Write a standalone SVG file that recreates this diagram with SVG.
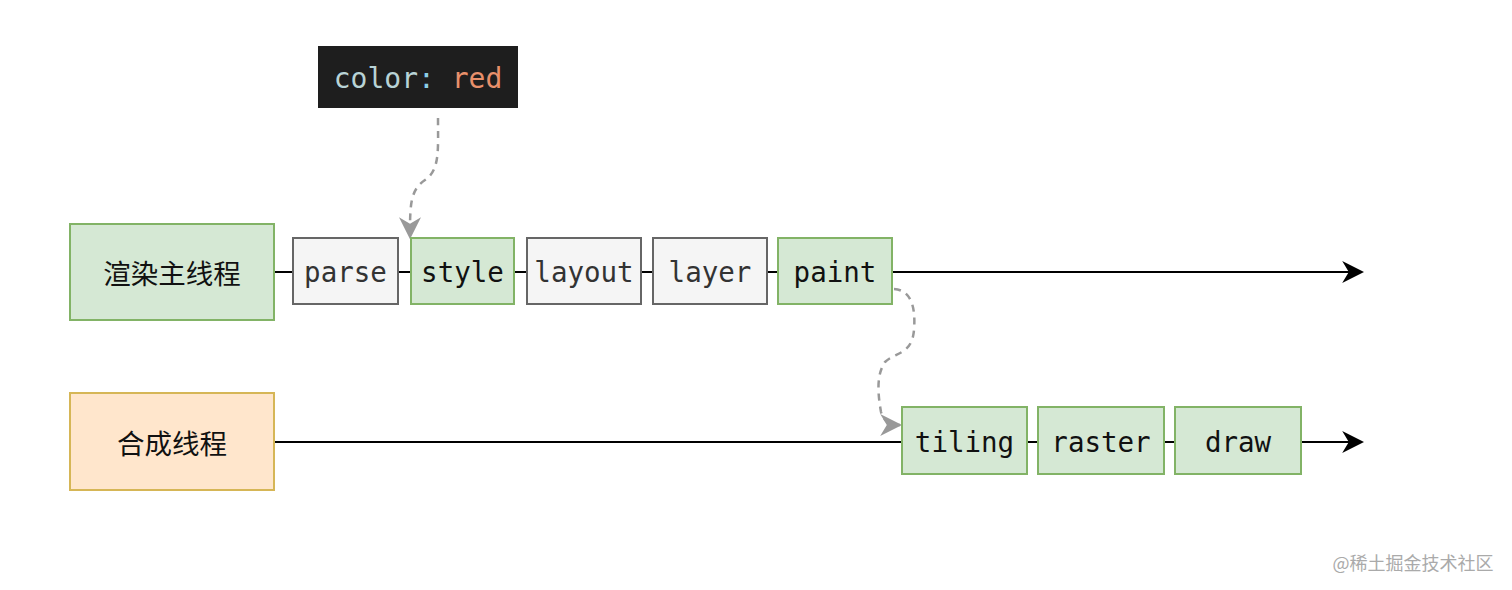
<svg xmlns="http://www.w3.org/2000/svg" width="1512" height="590" viewBox="0 0 1512 590">
<defs>
<style>
.g{fill:#d5e8d4;stroke:#82b366;stroke-width:2}
.w{fill:#f5f5f5;stroke:#666666;stroke-width:2}
.o{fill:#ffe6cc;stroke:#d6b656;stroke-width:2}
.m{font-family:"DejaVu Sans Mono","Liberation Mono",monospace;font-size:27.5px;fill:#111;text-anchor:middle;dominant-baseline:central}
.w .m{fill:#333}
.c{font-family:"Noto Sans CJK SC","Noto Sans",sans-serif;font-size:27.5px;fill:#111;text-anchor:middle;dominant-baseline:central}
.ln{stroke:#000;stroke-width:2;fill:none}
.d{stroke:#999;stroke-width:2.5;fill:none;stroke-dasharray:7 6}
</style>
<marker id="ah" viewBox="0 0 20 20" refX="18" refY="10" markerWidth="22" markerHeight="22" markerUnits="userSpaceOnUse" orient="auto"><path d="M0,0 L20,10 L0,20 L6,10 Z" fill="#000"/></marker>
<marker id="gh" viewBox="0 0 20 20" refX="18" refY="10" markerWidth="22" markerHeight="22" markerUnits="userSpaceOnUse" orient="auto"><path d="M0,0 L20,10 L0,20 L6,10 Z" fill="#999"/></marker>
</defs>
<rect width="1512" height="590" fill="#fff"/>
<g id="connectors">
<path class="ln" d="M274,272 H1362" marker-end="url(#ah)"/>
<path class="ln" d="M274,442 H1362" marker-end="url(#ah)"/>
<path class="d" d="M438,118 C438,150 440,170 425,180 C410,190 410,205 410,237" marker-end="url(#gh)"/>
<path class="d" d="M894,289 C910,290 916,305 914,330 C912,355 895,352 885,362 C876,375 878,395 881,412 C884,422 890,425 900,425" marker-end="url(#gh)"/>
</g>
<g id="code">
<rect x="318" y="46" width="200" height="62" fill="#1e1e1e"/>
<text x="418" y="78" font-family="DejaVu Sans Mono,Liberation Mono,monospace" font-size="28" text-anchor="middle" dominant-baseline="central"><tspan fill="#b8d3d6">color</tspan><tspan fill="#8ccfe8">:</tspan><tspan fill="#b8d3d6"> </tspan><tspan fill="#e8906b">red</tspan></text>
</g>
<g id="main"><rect class="g" x="70" y="224" width="204" height="96"/><text class="c" x="172" y="272">渲染主线程</text></g>
<g id="parse" class="w"><rect x="293" y="238" width="105" height="66"/><text class="m" x="345.5" y="272" stroke="none">parse</text></g>
<g id="style" class="g"><rect x="411" y="238" width="103" height="66"/><text class="m" x="462.5" y="272" stroke="none">style</text></g>
<g id="layout" class="w"><rect x="527" y="238" width="114" height="66"/><text class="m" x="584" y="272" stroke="none">layout</text></g>
<g id="layer" class="w"><rect x="653" y="238" width="114" height="66"/><text class="m" x="710" y="272" stroke="none">layer</text></g>
<g id="paint" class="g"><rect x="778" y="238" width="114" height="66"/><text class="m" x="835" y="272" stroke="none">paint</text></g>
<g id="comp"><rect class="o" x="70" y="393" width="204" height="97"/><text class="c" x="172" y="442">合成线程</text></g>
<g id="tiling" class="g"><rect x="902" y="407" width="125" height="67"/><text class="m" x="964.5" y="442" stroke="none">tiling</text></g>
<g id="raster" class="g"><rect x="1038" y="407" width="126" height="67"/><text class="m" x="1101" y="442" stroke="none">raster</text></g>
<g id="draw" class="g"><rect x="1175" y="407" width="126" height="67"/><text class="m" x="1238" y="442" stroke="none">draw</text></g>
<text x="1413" y="562" font-family="Noto Sans CJK SC,Noto Sans,sans-serif" font-size="18" fill="#aaa" text-anchor="middle" dominant-baseline="central">@稀土掘金技术社区</text>
</svg>
